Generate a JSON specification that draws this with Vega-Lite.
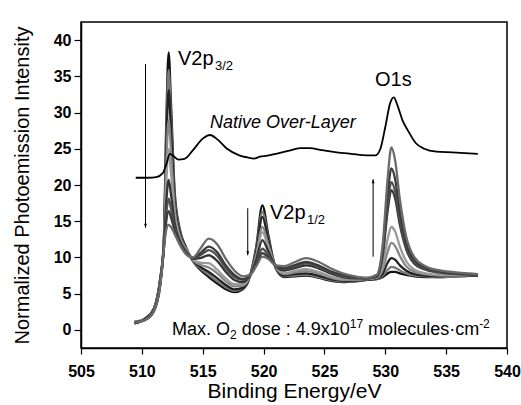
{
  "$schema": "https://vega.github.io/schema/vega-lite/v6.json",
  "width": 426,
  "height": 326,
  "autosize": {"type": "none"},
  "padding": {"left": 81, "top": 22, "right": 14, "bottom": 57},
  "background": "white",
  "config": {"view": {"stroke": "black", "strokeWidth": 1.5}, "font": "Liberation Sans"},
  "datasets": {
    "spectra": [
      {"x":509.4,"c0":1.0,"c1":1.1,"c2":0.9,"c3":1.0,"c4":1.1,"c5":0.9,"c6":1.0,"c7":1.1,"c8":1.0},
      {"x":510.3,"c0":1.6,"c1":1.6,"c2":1.6,"c3":1.5,"c4":1.5,"c5":1.5,"c6":1.4,"c7":1.4,"c8":1.4},
      {"x":511.0,"c0":3.0,"c1":3.0,"c2":2.9,"c3":2.8,"c4":2.8,"c5":2.7,"c6":2.7,"c7":2.6,"c8":2.6},
      {"x":511.5,"c0":7.0,"c1":6.9,"c2":6.8,"c3":6.6,"c4":6.4,"c5":6.3,"c6":6.2,"c7":6.1,"c8":6.0},
      {"x":511.8,"c0":12.0,"c1":11.9,"c2":11.8,"c3":11.6,"c4":11.4,"c5":11.3,"c6":11.2,"c7":11.1,"c8":11.0},
      {"x":512.0,"c0":28.0,"c1":26.6,"c2":24.9,"c3":22.5,"c4":20.0,"c5":17.5,"c6":15.9,"c7":14.9,"c8":13.8},
      {"x":512.2,"c0":38.3,"c1":35.9,"c2":33.1,"c3":29.0,"c4":25.0,"c5":20.7,"c6":18.1,"c7":16.4,"c8":14.5},
      {"x":512.4,"c0":31.0,"c1":29.3,"c2":27.3,"c3":24.5,"c4":21.6,"c5":18.6,"c6":16.7,"c7":15.5,"c8":14.2},
      {"x":512.7,"c0":19.0,"c1":18.4,"c2":17.7,"c3":16.7,"c4":15.8,"c5":14.7,"c6":14.1,"c7":13.7,"c8":13.2},
      {"x":513.1,"c0":14.0,"c1":13.8,"c2":13.5,"c3":13.1,"c4":12.8,"c5":12.4,"c6":12.1,"c7":12.0,"c8":11.8},
      {"x":513.6,"c0":11.5,"c1":11.4,"c2":11.4,"c3":11.3,"c4":11.1,"c5":10.9,"c6":10.8,"c7":10.7,"c8":10.5},
      {"x":514.2,"c0":9.5,"c1":9.5,"c2":9.6,"c3":9.6,"c4":9.7,"c5":9.8,"c6":9.9,"c7":9.9,"c8":10.0},
      {"x":514.8,"c0":8.3,"c1":8.5,"c2":8.7,"c3":9.0,"c4":9.3,"c5":9.9,"c6":10.3,"c7":10.6,"c8":11.2},
      {"x":515.5,"c0":7.3,"c1":7.6,"c2":8.0,"c3":8.6,"c4":9.2,"c5":10.3,"c6":11.0,"c7":11.5,"c8":12.6},
      {"x":516.2,"c0":6.4,"c1":6.7,"c2":7.1,"c3":7.8,"c4":8.3,"c5":9.5,"c6":10.2,"c7":10.7,"c8":11.8},
      {"x":516.9,"c0":5.6,"c1":5.9,"c2":6.2,"c3":6.7,"c4":7.1,"c5":8.0,"c6":8.5,"c7":8.9,"c8":9.8},
      {"x":517.6,"c0":5.2,"c1":5.4,"c2":5.6,"c3":6.0,"c4":6.3,"c5":6.9,"c6":7.3,"c7":7.6,"c8":8.2},
      {"x":518.3,"c0":5.6,"c1":5.7,"c2":5.8,"c3":6.1,"c4":6.3,"c5":6.6,"c6":6.9,"c7":7.0,"c8":7.4},
      {"x":518.9,"c0":7.5,"c1":7.5,"c2":7.5,"c3":7.5,"c4":7.5,"c5":7.6,"c6":7.6,"c7":7.6,"c8":7.6},
      {"x":519.4,"c0":11.5,"c1":11.2,"c2":10.9,"c3":10.4,"c4":10.1,"c5":9.7,"c6":9.2,"c7":9.0,"c8":8.8},
      {"x":519.9,"c0":17.2,"c1":16.3,"c2":15.6,"c3":14.2,"c4":13.5,"c5":12.4,"c6":11.2,"c7":10.6,"c8":10.1},
      {"x":520.4,"c0":13.0,"c1":12.6,"c2":12.3,"c3":11.7,"c4":11.3,"c5":10.8,"c6":10.3,"c7":10.0,"c8":9.8},
      {"x":521.0,"c0":8.5,"c1":8.6,"c2":8.6,"c3":8.7,"c4":8.7,"c5":8.8,"c6":8.8,"c7":8.9,"c8":8.9},
      {"x":521.7,"c0":7.3,"c1":7.4,"c2":7.5,"c3":7.7,"c4":7.8,"c5":8.2,"c6":8.4,"c7":8.5,"c8":8.8},
      {"x":522.5,"c0":7.4,"c1":7.5,"c2":7.7,"c3":7.9,"c4":8.1,"c5":8.5,"c6":8.7,"c7":8.9,"c8":9.3},
      {"x":523.5,"c0":7.5,"c1":7.6,"c2":7.8,"c3":8.1,"c4":8.4,"c5":8.9,"c6":9.2,"c7":9.4,"c8":9.9},
      {"x":524.5,"c0":7.2,"c1":7.3,"c2":7.5,"c3":7.8,"c4":8.0,"c5":8.5,"c6":8.7,"c7":8.9,"c8":9.4},
      {"x":525.5,"c0":6.8,"c1":6.9,"c2":7.0,"c3":7.2,"c4":7.4,"c5":7.8,"c6":8.0,"c7":8.1,"c8":8.5},
      {"x":526.5,"c0":6.6,"c1":6.7,"c2":6.8,"c3":6.9,"c4":7.0,"c5":7.3,"c6":7.4,"c7":7.6,"c8":7.8},
      {"x":527.5,"c0":6.7,"c1":6.7,"c2":6.8,"c3":6.9,"c4":7.0,"c5":7.1,"c6":7.2,"c7":7.3,"c8":7.4},
      {"x":528.5,"c0":6.9,"c1":6.9,"c2":6.9,"c3":7.0,"c4":7.0,"c5":7.1,"c6":7.1,"c7":7.1,"c8":7.2},
      {"x":529.3,"c0":7.0,"c1":7.0,"c2":7.1,"c3":7.2,"c4":7.2,"c5":7.3,"c6":7.4,"c7":7.5,"c8":7.6},
      {"x":529.8,"c0":7.3,"c1":7.5,"c2":7.8,"c3":8.4,"c4":9.0,"c5":10.4,"c6":10.7,"c7":11.2,"c8":12.0},
      {"x":530.2,"c0":7.8,"c1":8.3,"c2":9.3,"c3":10.8,"c4":12.6,"c5":16.5,"c6":17.3,"c7":18.8,"c8":21.0},
      {"x":530.5,"c0":8.0,"c1":8.7,"c2":9.9,"c3":12.0,"c4":14.2,"c5":19.3,"c6":20.4,"c7":22.3,"c8":25.2},
      {"x":530.8,"c0":8.0,"c1":8.6,"c2":9.7,"c3":11.6,"c4":13.6,"c5":18.2,"c6":19.2,"c7":20.9,"c8":23.5},
      {"x":531.2,"c0":7.8,"c1":8.2,"c2":8.9,"c3":10.2,"c4":11.5,"c5":14.5,"c6":15.1,"c7":16.3,"c8":18.0},
      {"x":531.7,"c0":7.6,"c1":7.8,"c2":8.2,"c3":8.8,"c4":9.5,"c5":11.2,"c6":11.5,"c7":12.1,"c8":13.0},
      {"x":532.4,"c0":7.4,"c1":7.5,"c2":7.7,"c3":8.0,"c4":8.3,"c5":9.1,"c6":9.3,"c7":9.6,"c8":10.0},
      {"x":533.3,"c0":7.3,"c1":7.4,"c2":7.5,"c3":7.7,"c4":7.8,"c5":8.3,"c6":8.4,"c7":8.6,"c8":8.8},
      {"x":534.5,"c0":7.3,"c1":7.3,"c2":7.4,"c3":7.5,"c4":7.6,"c5":7.9,"c6":8.0,"c7":8.1,"c8":8.2},
      {"x":536.0,"c0":7.4,"c1":7.4,"c2":7.5,"c3":7.5,"c4":7.6,"c5":7.7,"c6":7.8,"c7":7.8,"c8":7.9},
      {"x":537.6,"c0":7.5,"c1":7.5,"c2":7.5,"c3":7.6,"c4":7.6,"c5":7.6,"c6":7.6,"c7":7.7,"c8":7.7}
    ],
    "native": [
      {"x":509.5,"y":21.0},{"x":510.5,"y":21.0},{"x":511.2,"y":21.1},{"x":511.7,"y":21.6},
      {"x":512.0,"y":22.8},{"x":512.3,"y":24.3},{"x":512.6,"y":24.0},{"x":513.0,"y":23.5},
      {"x":513.5,"y":23.6},{"x":514.2,"y":24.8},{"x":515.0,"y":26.4},{"x":515.6,"y":26.9},
      {"x":516.2,"y":26.3},{"x":517.0,"y":25.0},{"x":518.0,"y":24.1},{"x":518.7,"y":23.8},
      {"x":519.2,"y":23.65},{"x":519.7,"y":23.9},{"x":520.3,"y":24.05},{"x":521.0,"y":24.3},
      {"x":522.0,"y":24.7},{"x":523.0,"y":25.1},{"x":523.8,"y":25.1},{"x":524.8,"y":24.8},
      {"x":526.0,"y":24.5},{"x":527.2,"y":24.3},{"x":528.5,"y":24.1},{"x":529.2,"y":24.1},
      {"x":529.6,"y":25.0},{"x":530.0,"y":28.0},{"x":530.4,"y":31.3},{"x":530.7,"y":32.1},
      {"x":531.0,"y":31.0},{"x":531.4,"y":29.0},{"x":531.9,"y":27.4},{"x":532.5,"y":25.8},
      {"x":533.2,"y":25.0},{"x":534.2,"y":24.6},{"x":535.5,"y":24.5},{"x":537.6,"y":24.3}
    ],
    "arrows": [
      {"x":510.3,"y":36.7,"y2":14.1,"dir":"down"},
      {"x":518.7,"y":16.8,"y2":10.3,"dir":"down"},
      {"x":529.0,"y":10.1,"y2":20.8,"dir":"up"}
    ],
    "big": [
      {"x":512.97,"y":36.56,"t":"V2p"},
      {"x":520.53,"y":15.31,"t":"V2p"},
      {"x":529.16,"y":33.67,"t":"O1s"}
    ],
    "subs": [
      {"x":516.01,"y":35.87,"t":"3/2"},
      {"x":523.57,"y":14.6,"t":"1/2"}
    ],
    "italic": [
      {"x":515.6,"y":27.87,"t":"Native Over-Layer"}
    ],
    "dose": [
      {"x":512.48,"y":-0.75,"t":"Max. O"},
      {"x":518.2,"y":-0.75,"t":"dose : 4.9x10"},
      {"x":528.59,"y":-0.75,"t":"molecules·cm"}
    ],
    "dosesmall": [
      {"x":517.24,"y":-1.3,"t":"2"},
      {"x":527.08,"y":0.22,"t":"17"},
      {"x":537.71,"y":0.22,"t":"-2"}
    ]
  },
  "layer": [
    {
      "data": {"name": "spectra"},
      "transform": [{"fold": ["c0","c1","c2","c3","c4","c5","c6","c7","c8"], "as": ["s","v"]}],
      "mark": {"type": "line", "interpolate": "monotone", "strokeWidth": 2.3},
      "encoding": {
        "x": {
          "field": "x", "type": "quantitative",
          "scale": {"domain": [505, 540], "nice": false, "zero": false},
          "axis": {
            "values": [505,507.5,510,512.5,515,517.5,520,522.5,525,527.5,530,532.5,535,537.5,540],
            "labelExpr": "datum.value % 5 === 0 ? datum.label : ''",
            "tickSize": {"condition": {"test": "datum.value % 5 === 0", "value": 6}, "value": 3.5},
            "labelFont": "Liberation Sans", "labelFontWeight": "bold", "labelFontSize": 16, "labelColor": "black",
            "labelPadding": 9, "labelOverlap": false, "labelFlush": false,
            "tickColor": "black", "tickWidth": 1.2, "domainColor": "black", "domainWidth": 1.5, "grid": false,
            "title": "Binding Energy/eV", "titleFont": "Liberation Sans", "titleFontSize": 21, "titleFontWeight": "normal",
            "titleColor": "black", "titleBaseline": "alphabetic", "titleY": 49
          }
        },
        "y": {
          "field": "v", "type": "quantitative",
          "scale": {"domain": [-2.5, 42.5], "nice": false, "zero": false},
          "axis": {
            "values": [0,2.5,5,7.5,10,12.5,15,17.5,20,22.5,25,27.5,30,32.5,35,37.5,40],
            "labelExpr": "datum.value % 5 === 0 ? datum.label : ''",
            "tickSize": {"condition": {"test": "datum.value % 5 === 0", "value": 7}, "value": 4},
            "labelFont": "Liberation Sans", "labelFontWeight": "bold", "labelFontSize": 16, "labelColor": "black",
            "labelPadding": 3, "labelOverlap": false, "labelFlush": false,
            "tickColor": "black", "tickWidth": 1.2, "domainColor": "black", "domainWidth": 1.5, "grid": false,
            "title": "Normalized Photoemission Intensity", "titleFont": "Liberation Sans", "titleFontSize": 20,
            "titleFontWeight": "normal", "titleColor": "black", "titleBaseline": "alphabetic", "titleX": -53
          }
        },
        "color": {
          "field": "s", "type": "nominal",
          "scale": {"domain": ["c0","c1","c2","c3","c4","c5","c6","c7","c8"],
                    "range": ["#111111","#777777","#222222","#858585","#9a9a9a","#333333","#505050","#3a3a3a","#6a6a6a"]},
          "legend": null
        }
      }
    },
    {
      "data": {"name": "native"},
      "mark": {"type": "line", "interpolate": "monotone", "strokeWidth": 1.8, "color": "black"},
      "encoding": {
        "x": {"field": "x", "type": "quantitative"},
        "y": {"field": "y", "type": "quantitative"}
      }
    },
    {
      "data": {"name": "arrows"},
      "mark": {"type": "rule", "color": "black", "strokeWidth": 1},
      "encoding": {
        "x": {"field": "x", "type": "quantitative"},
        "y": {"field": "y", "type": "quantitative"},
        "y2": {"field": "y2"}
      }
    },
    {
      "data": {"name": "arrows"},
      "mark": {"type": "point", "filled": true, "color": "black", "opacity": 1, "size": 64},
      "encoding": {
        "x": {"field": "x", "type": "quantitative"},
        "y": {"field": "y2", "type": "quantitative"},
        "shape": {"field": "dir", "type": "nominal",
                  "scale": {"domain": ["down","up"], "range": ["M -0.35 -1 L 0.35 -1 L 0 0 Z", "M -0.35 1 L 0.35 1 L 0 0 Z"]},
                  "legend": null}
      }
    },
    {
      "data": {"name": "big"},
      "mark": {"type": "text", "align": "left", "baseline": "alphabetic", "fontSize": 20, "font": "Liberation Sans", "color": "black"},
      "encoding": {
        "x": {"field": "x", "type": "quantitative"},
        "y": {"field": "y", "type": "quantitative"},
        "text": {"field": "t"}
      }
    },
    {
      "data": {"name": "subs"},
      "mark": {"type": "text", "align": "left", "baseline": "alphabetic", "fontSize": 13, "font": "Liberation Sans", "color": "black"},
      "encoding": {
        "x": {"field": "x", "type": "quantitative"},
        "y": {"field": "y", "type": "quantitative"},
        "text": {"field": "t"}
      }
    },
    {
      "data": {"name": "italic"},
      "mark": {"type": "text", "align": "left", "baseline": "alphabetic", "fontSize": 18, "fontStyle": "italic", "font": "Liberation Sans", "color": "black"},
      "encoding": {
        "x": {"field": "x", "type": "quantitative"},
        "y": {"field": "y", "type": "quantitative"},
        "text": {"field": "t"}
      }
    },
    {
      "data": {"name": "dose"},
      "mark": {"type": "text", "align": "left", "baseline": "alphabetic", "fontSize": 18, "font": "Liberation Sans", "color": "black"},
      "encoding": {
        "x": {"field": "x", "type": "quantitative"},
        "y": {"field": "y", "type": "quantitative"},
        "text": {"field": "t"}
      }
    },
    {
      "data": {"name": "dosesmall"},
      "mark": {"type": "text", "align": "left", "baseline": "alphabetic", "fontSize": 12, "font": "Liberation Sans", "color": "black"},
      "encoding": {
        "x": {"field": "x", "type": "quantitative"},
        "y": {"field": "y", "type": "quantitative"},
        "text": {"field": "t"}
      }
    }
  ]
}
